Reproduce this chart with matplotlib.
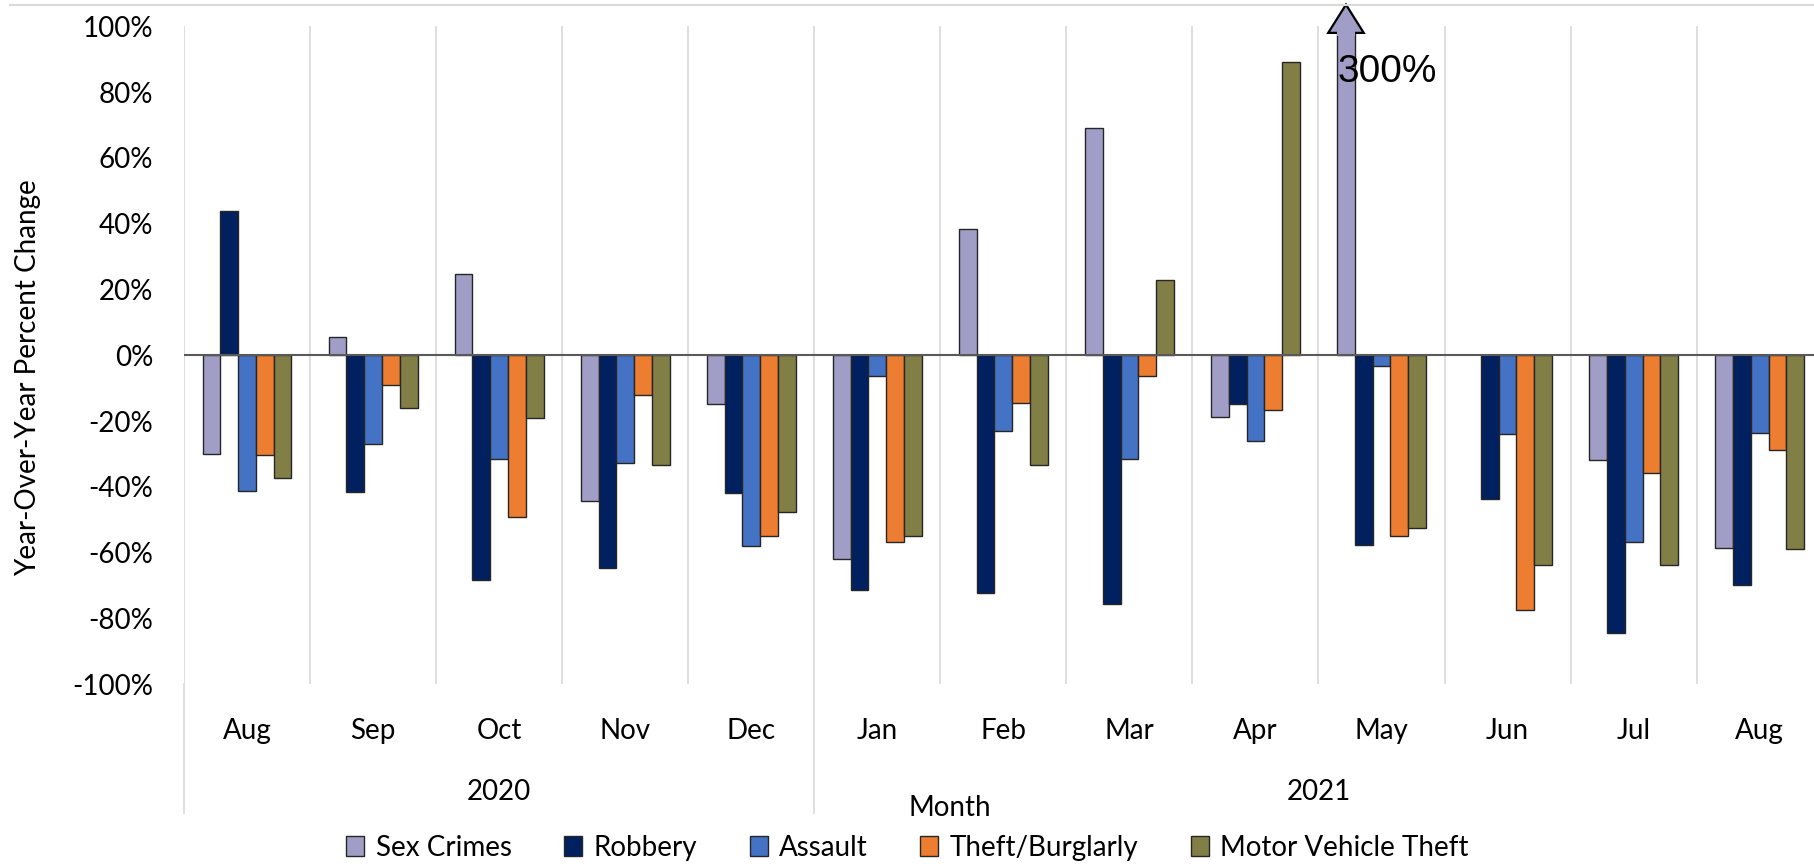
import numpy as np
import matplotlib
matplotlib.use("Agg")
import matplotlib.pyplot as plt
from matplotlib.lines import Line2D
from matplotlib.patches import Polygon
from matplotlib.transforms import blended_transform_factory

plt.rcParams['font.family'] = ['Lato', 'DejaVu Sans']

# ---- data -------------------------------------------------------------
months = ['Aug', 'Sep', 'Oct', 'Nov', 'Dec', 'Jan', 'Feb', 'Mar', 'Apr',
          'May', 'Jun', 'Jul', 'Aug']
years = ['2020', '2021']
months_per_year = [5, 8]

series_names = ['Sex Crimes', 'Robbery', 'Assault', 'Theft/Burglarly',
                'Motor Vehicle Theft']
sex_crimes = [-0.30, 0.057, 0.247, -0.442, -0.147, -0.62, 0.385, 0.692,
              -0.189, 3.00, np.nan, -0.319, -0.587]
robbery = [0.44, -0.415, -0.683, -0.645, -0.419, -0.713, -0.724, -0.756,
           -0.147, -0.577, -0.438, -0.843, -0.698]
assault = [-0.411, -0.27, -0.315, -0.326, -0.58, -0.063, -0.23, -0.314,
           -0.261, -0.032, -0.238, -0.566, -0.235]
theft_burglary = [-0.304, -0.089, -0.491, -0.121, -0.549, -0.566, -0.146,
                  -0.062, -0.165, -0.548, -0.774, -0.357, -0.288]
motor_vehicle_theft = [-0.372, -0.159, -0.19, -0.334, -0.475, -0.548, -0.333,
                       0.229, 0.891, -0.524, -0.636, -0.636, -0.59]
y_ticks = [-1.0, -0.8, -0.6, -0.4, -0.2, 0.0, 0.2, 0.4, 0.6, 0.8, 1.0]

colors = ['#A09EC6', '#002060', '#4472C4', '#ED7D31', '#817F45']
series = [sex_crimes, robbery, assault, theft_burglary, motor_vehicle_theft]

# ---- figure -------------------------------------------------------------
W, H = 1815, 868
fig = plt.figure(figsize=(W / 100, H / 100), dpi=100)
ax = fig.add_axes([184 / W, 1 - 684.3 / H, 1638.7 / W, 658 / H])

FS = 20
x = np.arange(len(months))
bar_w = 0.141
ymin, ymax = -1.0, 1.0

# light category separators behind the bars
for b in np.arange(-0.5, len(months) + 0.5, 1.0):
    ax.axvline(b, color='#D9D9D9', lw=1.2, zorder=0)

bars = []
for i, (name, vals, c) in enumerate(zip(series_names, series, colors)):
    b = ax.bar(x + (i - 2) * bar_w, vals, width=bar_w, color=c,
               edgecolor='#262626', linewidth=1.0, label=name, zorder=2)
    bars.append(b)

ax.axhline(0, color='#595959', lw=1.5, zorder=3)

ax.set_xlim(-0.5, len(months) - 0.5)
ax.set_ylim(ymin, ymax)
ax.set_yticks(y_ticks)
ax.set_yticklabels([f'{int(round(v * 100))}%' for v in y_ticks])
ax.set_xticks(x)
ax.set_xticklabels(months)
ax.tick_params(axis='y', length=0, pad=22, labelsize=FS)
ax.tick_params(axis='x', length=0, pad=24, labelsize=FS)
for s in ax.spines.values():
    s.set_visible(False)

# year level of the category axis
blend = blended_transform_factory(ax.transData, ax.transAxes)
start = 0
bounds = [-0.5]
for yr, n in zip(years, months_per_year):
    centre = start + (n - 1) / 2
    ax.text(centre, -0.164, yr, transform=blend, ha='center', va='center',
            fontsize=FS)
    start += n
    bounds.append(start - 0.5)
for b in bounds:
    ax.add_line(Line2D([b, b], [0, -0.196], transform=blend, color='#D9D9D9',
                       lw=1.2, clip_on=False))

# overflow marker for the bar that runs past the axis
over_idx = int(np.nanargmax(sex_crimes))
over_val = sex_crimes[over_idx]
xc = x[over_idx] - 2 * bar_w
hw = bar_w
arrow = Polygon([[xc - bar_w / 2, 0.99], [xc - hw, 0.99], [xc, 1.033],
                 [xc + hw, 0.99], [xc + bar_w / 2, 0.99]],
                closed=False, transform=blend, facecolor=colors[0],
                edgecolor='black', lw=1.6, clip_on=False, zorder=5,
                joinstyle='miter')
ax.add_patch(arrow)
ax.add_patch(Polygon([[xc - bar_w / 2, 0.985], [xc - bar_w / 2, 1.0],
                      [xc + bar_w / 2, 1.0], [xc + bar_w / 2, 0.985]],
                     transform=blend, facecolor=colors[0], edgecolor='none',
                     clip_on=False, zorder=5.5))
ax.text(xc - bar_w / 2, 0.861, f'{int(round(over_val * 100))}%',
        fontsize=28, family='Liberation Sans', ha='left', va='center',
        zorder=6)

# axis titles
fig.text(28 / W, 1 - 378 / H, 'Year-Over-Year Percent Change', rotation=90,
         ha='center', va='center', fontsize=FS)
fig.text(950 / W, 1 - 808 / H, 'Month', ha='center', va='center', fontsize=FS)

# rule along the top edge
fig.add_artist(Line2D([10 / W, 1], [1 - 5 / H, 1 - 5 / H], color='#D9D9D9',
                      lw=1.5))

leg = fig.legend(handles=bars, labels=series_names, loc='center',
                 bbox_to_anchor=(0.5, 1 - 848 / H), ncol=5, frameon=False,
                 fontsize=FS, handlelength=0.65, handleheight=0.75,
                 handletextpad=0.4, columnspacing=1.9, borderpad=0)

fig.savefig('out.png', dpi=100)
